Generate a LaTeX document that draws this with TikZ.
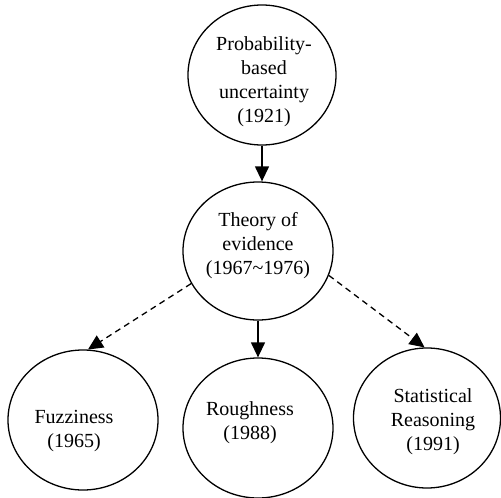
\documentclass[tikz,border=0pt]{standalone}
\usepackage{fontspec}
\setmainfont{Liberation Serif}
\usetikzlibrary{shapes.geometric,arrows.meta}
\tikzset{
  bub/.style={draw=black, line width=1.3pt, ellipse, inner sep=0pt},
  txt/.style={align=center, inner sep=0pt, font=\fontsize{20}{24}\selectfont, text=black},
  solidarr/.style={line width=1.3pt, -{Triangle[length=15pt,width=14pt]}},
  dasharr/.style={line width=1.3pt, dash pattern=on 6pt off 4.5pt, -{Triangle[length=15pt,width=14pt]}}
}
\begin{document}
\begin{tikzpicture}[x=1pt,y=-1pt]
\useasboundingbox (0,0) rectangle (501,498);
\node[bub, minimum width=148pt, minimum height=140pt] (top) at (262,75) {};
\node[bub, minimum width=150pt, minimum height=138pt] (mid) at (258,251) {};
\node[bub, minimum width=150pt, minimum height=140pt] (fuzz) at (83,420) {};
\node[bub, minimum width=150pt, minimum height=140pt] (rough) at (258,428) {};
\node[bub, minimum width=147pt, minimum height=140pt] (stat) at (427,418) {};

\node[txt] (toptxt) at (264,82) {Probability-\\based\\uncertainty\\(1921)};
\node[txt] (midtxt) at (258,246) {Theory of\\evidence\\(1967\textasciitilde1976)};
\node[txt] (fuzztxt) at (74,431) {Fuzziness\\(1965)};
\node[txt] (roughtxt) at (250,423) {Roughness\\(1988)};
\node[txt] (stattxt) at (433,422) {Statistical\\Reasoning\\(1991)};

\draw[solidarr] (top.south) -- (top.south |- mid.north);
\draw[solidarr] (mid.south) -- (rough.north);
\draw[dasharr] (mid.206.6) -- (fuzz.86);
\draw[dasharr] (mid.-19) -- (stat.92);
\end{tikzpicture}
\end{document}
